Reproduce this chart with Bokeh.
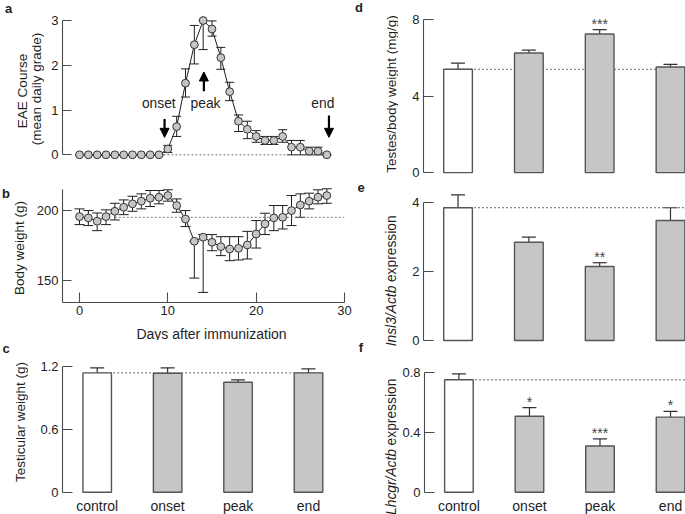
import math
from bokeh.plotting import figure
from bokeh.models import (ColumnDataSource, Whisker, TeeHead, Label, Arrow, NormalHead,
                          FixedTicker, Range1d, LinearAxis)
from bokeh.layouts import row, column
from bokeh.embed import file_html
from bokeh.resources import INLINE

# ------------------------------------------------------------------ data
days = [0, 1, 2, 3, 4, 5, 6, 7, 8, 9, 10, 11, 12, 13, 14, 15, 16, 17, 18, 19,
        20, 21, 22, 23, 24, 25, 26, 27, 28]
eae_mean = [0, 0, 0, 0, 0, 0, 0, 0, 0, 0, 0.13, 0.63, 1.60, 2.46, 3.00, 2.81, 2.17,
            1.41, 0.75, 0.57, 0.41, 0.32, 0.32, 0.41, 0.17, 0.17, 0.08, 0.08, 0.0]
eae_hi = [0, 0, 0, 0, 0, 0, 0, 0, 0, 0, 0.21, 0.86, 1.92, 2.89, 3.00, 2.99, 2.40,
          1.62, 0.89, 0.75, 0.54, 0.41, 0.41, 0.56, 0.32, 0.32, 0.17, 0.17, 0.0]
eae_lo = [0, 0, 0, 0, 0, 0, 0, 0, 0, 0, 0.05, 0.41, 1.29, 2.03, 2.35, 2.65, 1.91,
          1.21, 0.52, 0.36, 0.28, 0.23, 0.23, 0.28, 0.0, 0.0, 0.0, 0.0, 0.0]
eae_baseline = 0.0
eae_baseline_days = [9.5, 28]
eae_ticks = [0, 1, 2, 3]

bw_mean = [195.7, 194.8, 192.4, 195.7, 199.5, 202.4, 204.8, 206.7, 208.8, 209.5, 210.7,
           203.6, 194.0, 178.1, 181.0, 177.4, 174.3, 172.6, 173.1, 175.5, 183.3, 190.5,
           194.8, 195.2, 200.0, 204.0, 206.7, 209.5, 210.7]
bw_hi = [201.2, 200.0, 198.3, 200.5, 205.2, 207.6, 210.2, 211.9, 214.3, 214.3, 214.8,
         208.3, 200.0, 178.1, 182.9, 182.9, 181.4, 181.4, 181.4, 185.2, 192.9, 198.1,
         203.6, 203.6, 210.7, 211.9, 212.4, 214.8, 215.5]
bw_lo = [190.0, 189.3, 185.7, 190.0, 193.3, 197.1, 199.5, 201.2, 202.9, 204.8, 206.7,
         198.8, 188.6, 151.9, 141.7, 171.4, 167.9, 164.3, 164.8, 165.5, 173.3, 182.9,
         185.7, 186.9, 189.3, 195.2, 201.2, 204.8, 205.2]
bw_baseline = 195.2
bw_baseline_days = [4, 30]
bw_axis_top = 215.0
bw_yticks = [150, 200]
day_ticks = [0, 10, 20, 30]

cats = ["control", "onset", "peak", "end"]
testis_w = [1.139, 1.136, 1.050, 1.139]
testis_w_sem = [0.048, 0.051, 0.023, 0.039]
testis_ticks = [0, 0.6, 1.2]

ratio = [5.41, 6.26, 7.26, 5.53]
ratio_sem = [0.32, 0.15, 0.23, 0.14]
ratio_stars = ["", "", "***", ""]
ratio_ticks = [0, 4, 8]

insl3 = [3.84, 2.84, 2.14, 3.47]
insl3_sem = [0.37, 0.15, 0.11, 0.37]
insl3_stars = ["", "", "**", ""]
insl3_ticks = [0, 2, 4]

lhcgr = [0.753, 0.509, 0.310, 0.503]
lhcgr_sem = [0.040, 0.057, 0.047, 0.038]
lhcgr_stars = ["", "*", "***", "*"]
lhcgr_ticks = [0, 0.4, 0.8]

# stage annotations on panel a: (text, text day, text y, arrow day, arrow from, arrow to)
stage_notes = [("onset", 8.98, 1.14, 9.63, 0.80, 0.39),
               ("peak", 14.27, 1.14, 14.08, 1.42, 1.85),
               ("end", 27.55, 1.14, 28.24, 0.88, 0.39)]

# ------------------------------------------------------------------ layout / style
FONT = "Liberation Sans"
INK = "#1e1e1e"
AXC = "#4a4a4a"
GRAY = "#c6c6c6"
BARLINE = "#555555"
UP = math.pi / 2


def R(v):
    return int(round(v))


# main plotting figures: box (x0, y0, x1, y1), frame (left, top, right, bottom),
# and two pixel calibration points per axis: (value, pixel)
PANELS = {
    "a": dict(box=(44, 0, 353, 165), frame=(62, 1, 344, 163),
              xcal=((0, 79), (30, 344)), ycal=((0, 154.3), (3, 20))),
    "b": dict(box=(28, 165, 353, 322), frame=(62, 180, 344, 301.7),
              xcal=((0, 79), (30, 344)), ycal=((150, 280), (200, 210))),
    "c": dict(box=(28, 340, 353, 514), frame=(62, 341, 344, 514),
              xcal=((0, 96.7), (3, 308)), ycal=((0, 491.7), (1.2, 366))),
    "d": dict(box=(398, 0, 685, 180), frame=(423.3, 1, 685, 173.9),
              xcal=((0, 457.8), (3, 670)), ycal=((0, 172), (8, 19.3))),
    "e": dict(box=(398, 180, 685, 356), frame=(423.3, 181, 685, 356),
              xcal=((0, 457.8), (3, 670)), ycal=((0, 340), (4, 201.7))),
    "f": dict(box=(399, 356, 685, 514), frame=(423.3, 356, 685, 514),
              xcal=((0, 457.8), (3, 670)), ycal=((0, 491.7), (0.8, 372.3))),
}
# text strips (layout canvases holding titles / letters); vertical extent = partner frame
STRIPS = {
    "a": ((0, 44), "a"),
    "b": ((0, 28), "b"),
    "c": ((0, 28), "c"),
    "d": ((353, 398), "d"),
    "e": ((353, 398), "e"),
    "f": ((353, 399), "f"),
}
BX_BOX = (0, 322, 353, 340)
CAT_LABEL_Y = 505


def px_to_val(cal, px):
    (v1, p1), (v2, p2) = cal
    return v1 + (px - p1) * (v2 - v1) / (p2 - p1)


def blank_fig(width, height, xr, yr, bl, br, bt, bb):
    p = figure(width=width, height=height, x_range=xr, y_range=yr,
               min_border_left=bl, min_border_right=br, min_border_top=bt,
               min_border_bottom=bb, output_backend="svg", toolbar_location=None,
               x_axis_location=None, y_axis_location=None, title=None)
    p.outline_line_color = None
    p.xgrid.visible = False
    p.ygrid.visible = False
    p.background_fill_color = "white"
    p.border_fill_color = "white"
    return p


def make_fig(key):
    P = PANELS[key]
    X0, Y0, X1, Y1 = P["box"]
    fl, ft, fr, fb = P["frame"]
    xr = Range1d(px_to_val(P["xcal"], fl), px_to_val(P["xcal"], fr))
    yr = Range1d(px_to_val(P["ycal"], fb), px_to_val(P["ycal"], ft))
    return blank_fig(R(X1) - R(X0), R(Y1) - R(Y0), xr, yr,
                     R(fl) - R(X0), R(X1) - R(fr), R(ft) - R(Y0), R(Y1) - R(fb))


def make_strip(key):
    (X0, X1), partner = STRIPS[key]
    _, Y0, _, Y1 = PANELS[partner]["box"]
    _, ft, _, fb = PANELS[partner]["frame"]
    bt, bb = R(ft) - R(Y0), R(Y1) - R(fb)
    return blank_fig(R(X1) - R(X0), R(Y1) - R(Y0), Range1d(R(X0), R(X1)),
                     Range1d(R(Y1) - bb, R(Y0) + bt), 0, 0, bt, bb)


def txt(p, X, Y, text, size=13.5, angle=0.0, align="center", baseline="middle",
        style="normal", color=INK):
    p.add_layout(Label(x=X, y=Y, text=text, angle=angle, text_align=align,
                       text_baseline=baseline, text_font=FONT, text_font_size=f"{size}px",
                       text_font_style=style, text_color=color))


def style_axis(ax, ticks, bounds=None, overrides=None, tick_len=9, standoff=4, size=13,
               line=True):
    ax.ticker = FixedTicker(ticks=ticks)
    if bounds is not None:
        ax.bounds = bounds
    if overrides is not None:
        ax.major_label_overrides = overrides
    ax.major_tick_in = tick_len
    ax.major_tick_out = 0
    ax.minor_tick_in = 0
    ax.minor_tick_out = 0
    ax.axis_line_color = AXC if line else None
    ax.major_tick_line_color = AXC if line else None
    ax.axis_line_width = 1.1
    ax.major_tick_line_width = 1.1
    ax.major_label_standoff = standoff
    ax.major_label_text_font = FONT
    ax.major_label_text_font_size = f"{size}px"
    ax.major_label_text_color = INK


def add_axis(p, place, ticks, **kw):
    ax = LinearAxis()
    style_axis(ax, ticks, **kw)
    p.add_layout(ax, place)
    return ax


def num_overrides(ticks):
    return {t: (f"{t:g}") for t in ticks}


# ------------------------------------------------------------------ panel a
fa = make_fig("a")
add_axis(fa, "left", eae_ticks, bounds=(eae_ticks[0], eae_ticks[-1]))
fa.line(eae_baseline_days, [eae_baseline, eae_baseline], line_dash="2 2", line_color="#777777",
        line_width=1)
src_a = ColumnDataSource(dict(x=days, y=eae_mean, lo=eae_lo, hi=eae_hi))
fa.add_layout(Whisker(source=src_a, base="x", lower="lo", upper="hi", line_color=INK,
                      line_width=1,
                      upper_head=TeeHead(size=9, line_color=INK, line_width=1),
                      lower_head=TeeHead(size=9, line_color=INK, line_width=1)))
fa.line("x", "y", source=src_a, line_color=INK, line_width=1)
fa.scatter("x", "y", source=src_a, size=7.8, fill_color=GRAY, line_color="#333333",
           line_width=1)
for t, tx, ty, axx, ay0, ay1 in stage_notes:
    fa.add_layout(Label(x=tx, y=ty, text=t, text_align="center", text_baseline="middle",
                        text_font=FONT, text_font_size="13.8px", text_color=INK))
    fa.add_layout(Arrow(x_start=axx, y_start=ay0, x_end=axx, y_end=ay1, line_width=2.2,
                        line_color="black",
                        end=NormalHead(size=9, fill_color="black", line_color="black",
                                       line_width=1)))
sa = make_strip("a")
txt(sa, 21.8, 90.5, "EAE Course", angle=UP)
txt(sa, 35.5, 88.5, "(mean daily grade)", angle=UP)
txt(sa, 8, 8, "a", size=13, style="bold")

# ------------------------------------------------------------------ panel b
fb_ = make_fig("b")
bw_bottom = fb_.y_range.start
add_axis(fb_, "left", bw_yticks, bounds=(bw_bottom, bw_axis_top))
add_axis(fb_, "below", day_ticks, tick_len=10, standoff=3)
fb_.line(bw_baseline_days, [bw_baseline, bw_baseline], line_dash="2 2", line_color="#777777",
         line_width=1)
src_b = ColumnDataSource(dict(x=days, y=bw_mean, lo=bw_lo, hi=bw_hi))
fb_.add_layout(Whisker(source=src_b, base="x", lower="lo", upper="hi", line_color=INK,
                       line_width=1,
                       upper_head=TeeHead(size=10, line_color=INK, line_width=1),
                       lower_head=TeeHead(size=10, line_color=INK, line_width=1)))
fb_.line("x", "y", source=src_b, line_color=INK, line_width=1)
fb_.scatter("x", "y", source=src_b, size=7.8, fill_color=GRAY, line_color="#333333",
            line_width=1)
sb = make_strip("b")
txt(sb, 18.5, 247.5, "Body weight (g)", angle=UP)
txt(sb, 5.5, 192.5, "b", size=13, style="bold")

X0, Y0, X1, Y1 = BX_BOX
sbx = blank_fig(X1 - X0, Y1 - Y0, Range1d(X0, X1), Range1d(Y1, Y0), 0, 0, 0, 0)
txt(sbx, 211, 333, "Days after immunization", size=14, baseline="alphabetic")


# ------------------------------------------------------------------ bar panels
def bar_panel(key, vals, sems, ticks, stars=None, cat_labels=False, bar_w=0.405):
    p = make_fig(key)
    add_axis(p, "left", ticks, bounds=(ticks[0], ticks[-1]), overrides=num_overrides(ticks),
             tick_len=10)
    xs = list(range(len(cats)))
    p.line([xs[0], xs[-1] + bar_w / 2], [vals[0], vals[0]], line_dash="2 2",
           line_color="#666666", line_width=1)
    hi = [v + e for v, e in zip(vals, sems)]
    src = ColumnDataSource(dict(x=xs, top=vals, hi=hi,
                                fill=["white"] + [GRAY] * (len(cats) - 1)))
    p.add_layout(Whisker(source=src, base="x", lower="top", upper="hi", line_color="#333333",
                         line_width=1.2, lower_head=None,
                         upper_head=TeeHead(size=14, line_color="#333333",
                                            line_width=1.2)))
    p.vbar(x="x", top="top", bottom=0, width=bar_w, source=src, fill_color="fill",
           line_color=BARLINE, line_width=1.4)
    if stars is not None:
        for i, st in enumerate(stars):
            if st:
                p.add_layout(Label(x=xs[i], y=hi[i], text=st, text_align="center",
                                   text_baseline="middle", y_offset=6, text_font=FONT,
                                   text_font_size="14px", text_color="#444444"))
    if cat_labels:
        ylab = px_to_val(PANELS[key]["ycal"], CAT_LABEL_Y)
        for i, c in enumerate(cats):
            p.add_layout(Label(x=xs[i], y=ylab, text=c, text_align="center",
                               text_baseline="middle", text_font=FONT,
                               text_font_size="14px", text_color=INK))
    return p


fc = bar_panel("c", testis_w, testis_w_sem, testis_ticks, cat_labels=True)
sc = make_strip("c")
txt(sc, 19.5, 421.5, "Testicular weight (g)", angle=UP)
txt(sc, 5.5, 347.5, "c", size=13, style="bold")

fd = bar_panel("d", ratio, ratio_sem, ratio_ticks, stars=ratio_stars)
sd = make_strip("d")
txt(sd, 390.5, 93.5, "Testes/body weight (mg/g)", size=13.5, angle=UP)
txt(sd, 358.5, 7, "d", size=13, style="bold")

fe = bar_panel("e", insl3, insl3_sem, insl3_ticks, stars=insl3_stars)
se = make_strip("e")
txt(se, 390.5, 285.2, "Insl3/Actb", size=13.8, angle=UP, align="right", style="italic")
txt(se, 390.5, 281.6, "expression", size=13.8, angle=UP, align="left")
txt(se, 360.5, 186.5, "e", size=13, style="bold")
txt(se, 360.5, 346.5, "f", size=13, style="bold")

ff = bar_panel("f", lhcgr, lhcgr_sem, lhcgr_ticks, stars=lhcgr_stars, cat_labels=True)
sf = make_strip("f")
txt(sf, 390.5, 448.5, "Lhcgr/Actb", size=13.8, angle=UP, align="right", style="italic")
txt(sf, 390.5, 444.9, "expression", size=13.8, angle=UP, align="left")

layout = row(
    column(row(sa, fa), row(sb, fb_), sbx, row(sc, fc)),
    column(row(sd, fd), row(se, fe), row(sf, ff)),
)

open("out.html", "w").write(file_html(layout, INLINE))
